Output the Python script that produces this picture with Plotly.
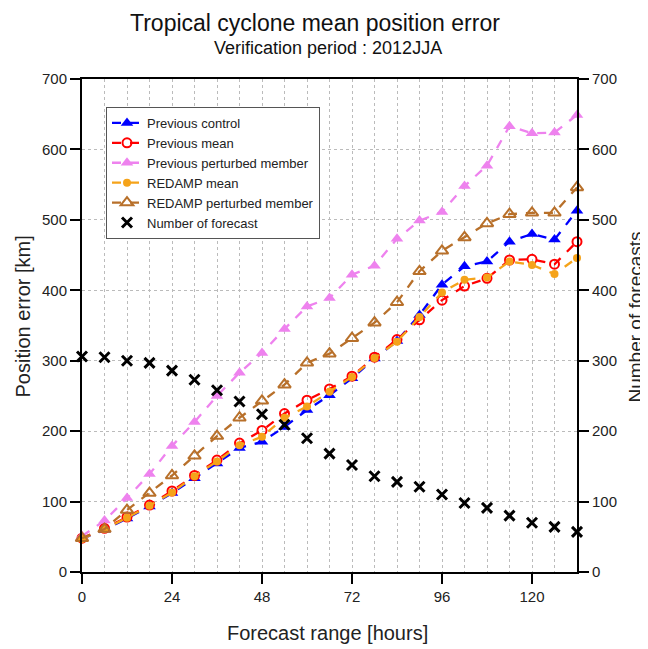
import plotly.graph_objects as go

hours = [0, 6, 12, 18, 24, 30, 36, 42, 48, 54, 60, 66, 72, 78, 84, 90, 96, 102, 108, 114, 120, 126, 132]

prev_control = [47, 60, 76, 93, 112, 133, 154, 176, 185, 206, 230, 251, 275, 303, 328, 365, 408, 434, 441, 469, 480, 472, 513]
prev_mean = [48, 62, 78, 95, 115, 137, 159, 183, 201, 225, 244, 260, 278, 305, 330, 358, 386, 406, 417, 443, 444, 437, 469]
prev_pert = [51, 73, 105, 139, 179, 213, 250, 283, 311, 345, 377, 389, 422, 435, 473, 499, 511, 548, 577, 633, 623, 624, 649]
redamp_mean = [47, 61, 77, 94, 113, 136, 157, 180, 192, 219, 235, 256, 277, 304, 327, 362, 397, 415, 418, 441, 436, 423, 446]
redamp_pert = [48, 61, 88, 112, 137, 165, 193, 219, 243, 266, 297, 310, 332, 354, 383, 427, 456, 475, 495, 508, 510, 510, 546]
n_forecast = [306, 305, 300, 297, 286, 273, 258, 242, 224, 209, 190, 168, 152, 136, 128, 121, 110, 98, 91, 80, 70, 64, 57]

FONT = "Liberation Sans, Arial, Helvetica, sans-serif"

# Figure geometry (page body has an 8px margin)
W, H = 640, 641
L, R, T, B = 74, 71, 71, 77
PW, PH = W - L - R, H - T - B

def px(fx):
    return (fx - L) / PW

def py(fy):
    return (H - B - fy) / PH

fig = go.Figure()

def add_line(y, name, color, symbol, size, lw=2.3, open_=False):
    fig.add_trace(go.Scatter(
        x=hours, y=y, name=name, mode="lines+markers", cliponaxis=False,
        line=dict(color=color, width=lw, dash="dash"),
        marker=dict(symbol=symbol, size=size, color=color,
                    line=dict(color=color, width=2 if open_ else 0)),
    ))

add_line(prev_control, "Previous control", "#0000ff", "triangle-up", 11)
add_line(prev_mean, "Previous mean", "#ff0000", "circle-open", 9, open_=True)
add_line(prev_pert, "Previous perturbed member", "#ee82ee", "triangle-up", 11)
add_line(redamp_mean, "REDAMP mean", "#f5a31a", "circle", 8)
add_line(redamp_pert, "REDAMP perturbed member", "#b8702a", "triangle-up-open", 11, open_=True)

fig.add_trace(go.Scatter(
    x=hours, y=n_forecast, name="Number of forecast", mode="markers", cliponaxis=False,
    marker=dict(symbol="x-thin", size=10, color="black", line=dict(color="black", width=3)),
    yaxis="y2",
))

axis_common = dict(
    showline=True, linecolor="black", linewidth=2, ticks="outside",
    ticklen=10, tickwidth=1.5, tickcolor="black",
    tickfont=dict(family=FONT, size=15, color="#222"),
    zeroline=False,
)

fig.update_layout(
    width=W, height=H,
    margin=dict(l=L, r=R, t=T, b=B),
    paper_bgcolor="white", plot_bgcolor="white",
    font=dict(family=FONT, color="#222"),
    showlegend=True,
    legend=dict(
        x=px(98), y=py(99), xanchor="left", yanchor="top",
        bgcolor="white", bordercolor="#555", borderwidth=1,
        font=dict(size=13, color="#222"), tracegroupgap=0,
        itemwidth=30,
    ),
    xaxis=dict(
        range=[0, 132], tickvals=[0, 24, 48, 72, 96, 120],
        showgrid=True, gridcolor="#bbbbbb", griddash="dot", gridwidth=1,
        minor=dict(dtick=6, tick0=0, showgrid=True, gridcolor="#bbbbbb", griddash="dot", gridwidth=1),
        mirror=True,
        **axis_common,
    ),
    yaxis=dict(
        range=[0, 700], dtick=100,
        showgrid=True, gridcolor="#bbbbbb", griddash="dot", gridwidth=1,
        mirror=True,
        **axis_common,
    ),
    yaxis2=dict(
        range=[0, 700], dtick=100, overlaying="y", side="right",
        showgrid=False,
        **axis_common,
    ),
    annotations=[
        dict(text="Tropical cyclone mean position error", x=px(307), y=py(15),
             xref="paper", yref="paper", xanchor="center", yanchor="middle",
             showarrow=False, font=dict(size=23, color="#111")),
        dict(text="Verification period : 2012JJA", x=px(320), y=py(40),
             xref="paper", yref="paper", xanchor="center", yanchor="middle",
             showarrow=False, font=dict(size=18, color="#111")),
        dict(text="Forecast range [hours]", x=px(319.5), y=py(625),
             xref="paper", yref="paper", xanchor="center", yanchor="middle",
             showarrow=False, font=dict(size=20, color="#222")),
        dict(text="Position error [km]", x=px(14), y=py(308.5), textangle=-90,
             xref="paper", yref="paper", xanchor="center", yanchor="middle",
             showarrow=False, font=dict(size=20, color="#222")),
        dict(text="Number of forecasts", x=px(627), y=py(309.5), textangle=-90,
             xref="paper", yref="paper", xanchor="center", yanchor="middle",
             showarrow=False, font=dict(size=19, color="#222")),
    ],
)

fig.write_html("out.html")
